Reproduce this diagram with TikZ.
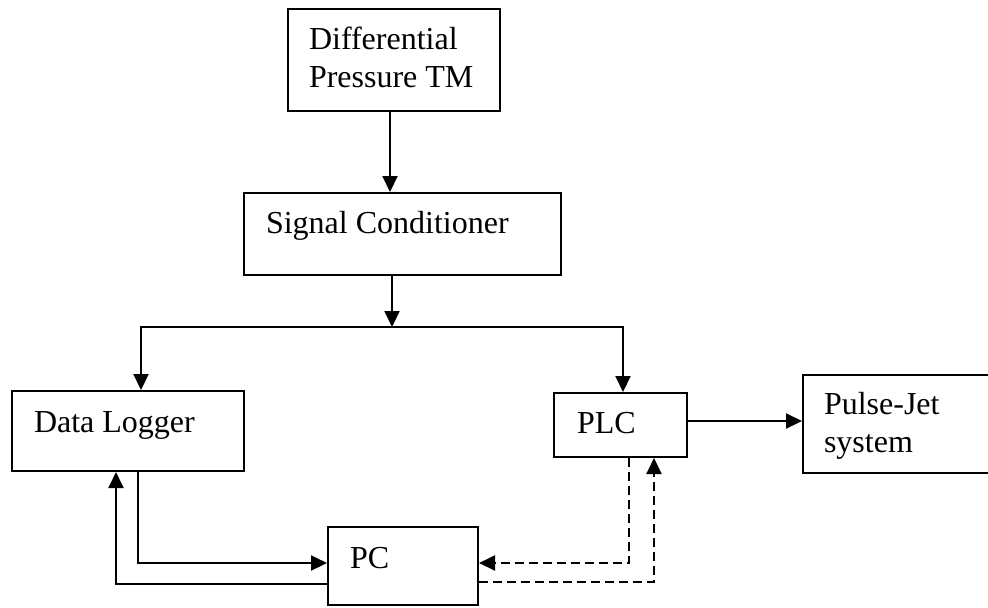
\documentclass[tikz,border=0pt]{standalone}
\usepackage{fontspec}
\setmainfont{Liberation Serif}
\usetikzlibrary{positioning, arrows.meta}

\begin{document}
\begin{tikzpicture}[x=0.5pt, y=-0.5pt,
      blk/.style={draw, line width=1pt, inner sep=0pt},
      lbl/.style={inner sep=0pt, anchor=base west, align=left,
        font=\fontsize{16}{19}\selectfont},
      >={Triangle[length=8pt, width=7.5pt]}, line width=1pt]
    \useasboundingbox (0,0) rectangle (988,607);
    \node[blk, minimum width=106pt, minimum height=51pt] (dtm) at (394,60) {};
    \node[blk, minimum width=158.5pt, minimum height=41pt] (sc) at (402.5,234) {};
    \node[blk, minimum width=116pt, minimum height=40pt] (dl) at (128,431) {};
    \node[blk, minimum width=66.5pt, minimum height=32pt] (plc) at (620.5,425) {};
    \node[blk, minimum width=96pt, minimum height=49pt] (pj) at (899,424) {};
    \node[blk, minimum width=75pt, minimum height=39pt] (pc) at (403,566) {};
    \node[lbl] (dtmtxt) at (308,87) {Differential\\Pressure TM};
    \node[lbl] (sctxt) at (265,233) {Signal Conditioner};
    \node[lbl] (dltxt) at (33,432) {Data Logger};
    \node[lbl] (plctxt) at (576,433) {PLC};
    \node[lbl] (pjtxt) at (823,452) {Pulse-Jet\\system};
    \node[lbl] (pctxt) at (349,568) {PC};
    \coordinate (split) at (392,327);
    \draw[->] ([xshift=-2pt]dtm.south) -- ([xshift=-2pt]dtm.south |- sc.north);
    \draw[->] (sc.south -| split) -- (split);
    \draw[->] (split) -| ([xshift=6.5pt]dl.north);
    \draw[->] (split) -| ([xshift=1.25pt]plc.north);
    \draw[->] ([yshift=2pt]plc.east) -- ([yshift=2pt]plc.east -| pj.west);
    \draw[->] ([xshift=5pt]dl.south) |- ([yshift=1.5pt]pc.west);
    \draw[->] ([yshift=-9pt]pc.west) -| ([xshift=-6pt]dl.south);
    \draw[->, dashed, dash pattern=on 4.5pt off 2.5pt]
      ([xshift=4.25pt]plc.south) |- ([yshift=1.5pt]pc.east);
    \draw[->, dashed, dash pattern=on 4.5pt off 2.5pt]
      ([yshift=-8pt]pc.east) -| ([xshift=16.75pt]plc.south);
  \end{tikzpicture}
\end{document}
